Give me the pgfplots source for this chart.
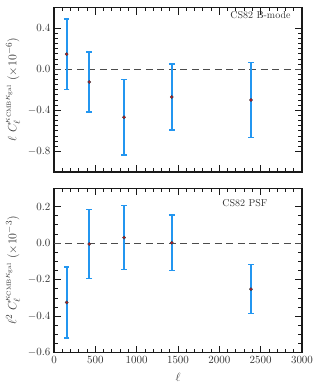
\documentclass[border=0pt]{standalone}
\usepackage{pgfplots}
\pgfplotsset{compat=1.18}
\definecolor{bblue}{RGB}{35,150,240}
\definecolor{dred}{RGB}{185,20,40}
\begin{document}
\begin{tikzpicture}
\path[use as bounding box] (-54pt,-220pt) rectangle (263pt,172pt);
\pgfplotsset{
  panel/.style={
    scale only axis, width=248pt, height=164.5pt,
    xmin=0, xmax=3000, xtick={0,500,...,3000}, minor x tick num=4,
    tick align=inside, xtick pos=both, ytick pos=both,
    major tick length=7pt, minor tick length=3.8pt,
    axis line style={line width=1.3pt, black!90},
    tick style={line width=0.8pt, black!90},
    tick label style={font=\fontsize{10.5}{12}\selectfont, text=black!80},
    xticklabel style={/pgf/number format/set thousands separator={}},
    yticklabel style={/pgf/number format/.cd, fixed, fixed zerofill, precision=1},
    every axis y label/.style={at={(axis description cs:-0.165,0.5)}, rotate=90, anchor=center, text=black!80, font=\fontsize{12.5}{14}\selectfont},
    every axis x label/.style={at={(axis description cs:0.5,-0.152)}, anchor=center, text=black!80, font=\fontsize{12}{14}\selectfont},
    clip=false,
  },
  ebar/.style={only marks, mark=*, mark size=1.6pt,
    mark options={fill=dred, draw=black!75, line width=0.4pt},
    error bars/.cd, y dir=both, y explicit,
    error bar style={line width=2pt, color=bblue},
    error mark options={rotate=90, mark size=2.8pt, line width=1.4pt, color=bblue}},
}
\begin{axis}[panel, at={(0,0)}, anchor=south west,
  ymin=-1.0, ymax=0.6, ytick={-0.8,-0.4,0,0.4}, minor y tick num=7,
  xticklabels={},
  ylabel={$\ell\ C_\ell^{\kappa_{\rm CMB}\kappa_{\rm gal}}\ (\times 10^{-6})$}]
\addplot[black!70, line width=1pt, dash pattern=on 7pt off 4.5pt] coordinates {(0,0) (3000,0)};
\addplot+[ebar] table[x=l, y=c, y error=e] {
l c e
153 0.146 0.342
427 -0.124 0.291
847 -0.468 0.367
1424 -0.270 0.322
2383 -0.300 0.365
};
\node[text=black!80] at (axis cs:2498,0.527) {CS82 B-mode};
\end{axis}
\begin{axis}[panel, at={(0,-180.7pt)}, anchor=south west, height=164.4pt,
  ymin=-0.6, ymax=0.3, ytick={-0.6,-0.4,-0.2,0,0.2}, minor y tick num=3,
  xlabel={$\ell$},
  ylabel={$\ell^2\ C_\ell^{\kappa_{\rm CMB}\kappa_{\rm gal}}\ (\times 10^{-3})$}]
\addplot[black!70, line width=1pt, dash pattern=on 7pt off 4.5pt] coordinates {(0,0) (3000,0)};
\addplot+[ebar] table[x=l, y=c, y error=e] {
l c e
153 -0.325 0.195
427 -0.005 0.190
847 0.030 0.175
1424 0.002 0.152
2383 -0.252 0.134
};
\node[text=black!80] at (axis cs:2310,0.217) {CS82 PSF};
\end{axis}
\end{tikzpicture}
\end{document}
